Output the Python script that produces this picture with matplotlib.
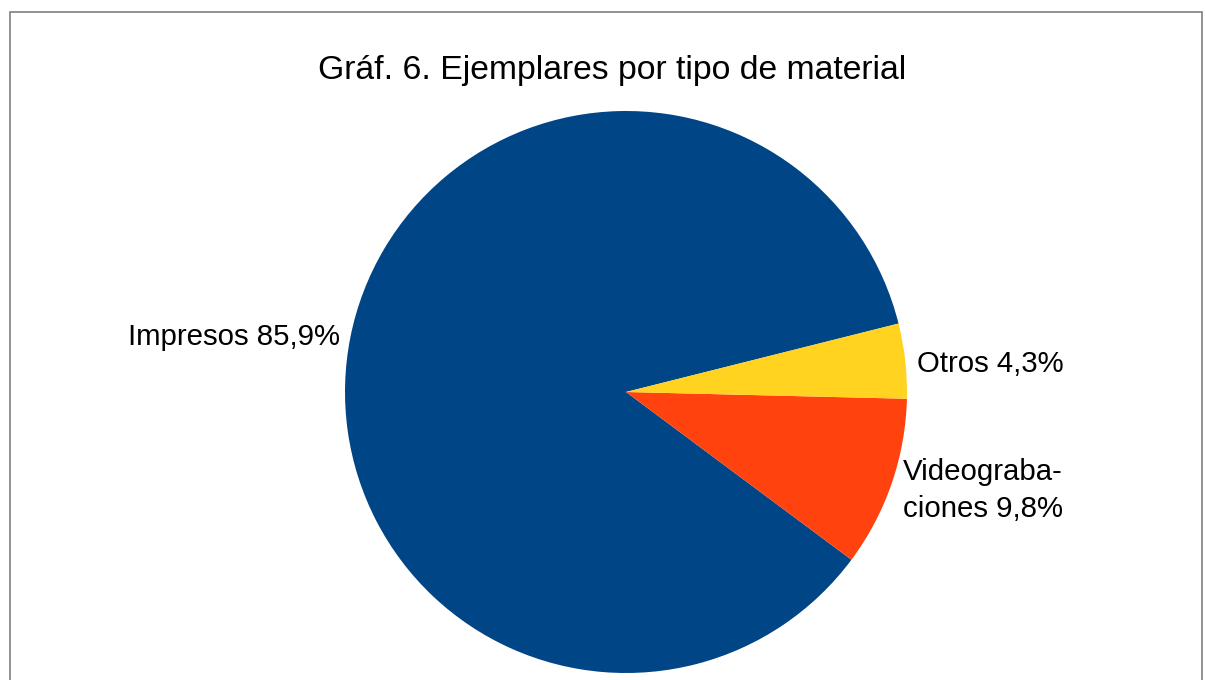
import matplotlib
matplotlib.use('Agg')
import matplotlib.pyplot as plt
from matplotlib.patches import Rectangle

plt.rcParams['font.family'] = ['Liberation Sans', 'DejaVu Sans']

# data
categories = ['Impresos', 'Videograba-\nciones', 'Otros']
values = [85.9, 9.8, 4.3]
value_labels = ['85,9%', '9,8%', '4,3%']
colors = ['#004586', '#ff420e', '#ffd320']

W, H = 1205, 680
fig = plt.figure(figsize=(W / 100, H / 100), dpi=100)

# pie axes: center (626, 392) px, radius 281 px
cx, cy, r = 626, 392, 281
ax = fig.add_axes([(cx - r) / W, (H - cy - r) / H, 2 * r / W, 2 * r / H])
wedges, texts = ax.pie(values, colors=colors, startangle=14.1, counterclock=True,
                       labels=[f'{c} {v}' for c, v in zip(categories, value_labels)],
                       wedgeprops=dict(linewidth=0), textprops=dict(fontsize=21.2))
ax.set_xlim(-1, 1)
ax.set_ylim(-1, 1)
ax.set_aspect('equal')

# label placement like the original
pos = [(-1.018, 0.196, 'right'), (0.986, -0.35, 'left'), (1.036, 0.10, 'left')]
for t, (x, y, ha) in zip(texts, pos):
    t.set_position((x, y))
    t.set_ha(ha)
    t.set_va('center')
    t.set_multialignment('left')
    t.set_linespacing(1.42)

fig.text(612 / W, 1 - 70 / H, 'Gráf. 6. Ejemplares por tipo de material',
         ha='center', va='center', fontsize=24.3)

# frame
fig.patches.append(Rectangle((10 / W, -0.1), (1202 - 10) / W, 1.1 - 12 / H,
                             transform=fig.transFigure, fill=False,
                             edgecolor='#808080', linewidth=1.2))

fig.savefig('out.png', dpi=100)
